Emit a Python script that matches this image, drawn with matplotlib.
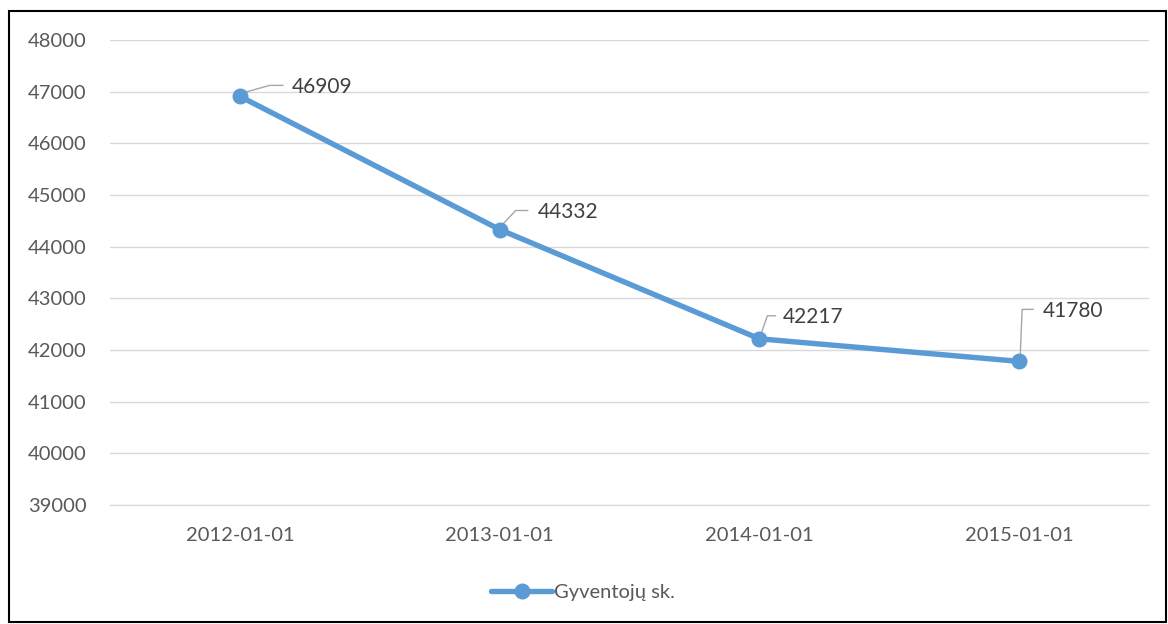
import matplotlib
matplotlib.use("Agg")
import matplotlib.pyplot as plt
from matplotlib.patches import Rectangle

# data
dates = ["2012-01-01", "2013-01-01", "2014-01-01", "2015-01-01"]
population = [46909, 44332, 42217, 41780]
series_name = "Gyventojų sk."

# label leader offsets in pixels (elbow x, elbow y, end x, text x, text y)
leaders = [
    (30, 11, 43, 52, 9),
    (16, 19, 28, 38, 18),
    (8, 23, 16, 23, 22),
    (3, 52, 14, 24, 50),
]

plt.rcParams['font.family'] = ['Lato', 'DejaVu Sans']

blue = "#5b9bd5"
grid_c = "#d9d9d9"
txt_c = "#595959"

fig = plt.figure(figsize=(11.68, 6.24), dpi=100)
ax = fig.add_axes([110 / 1168, 1 - 505 / 624, 1039 / 1168, 465 / 624])

x = list(range(len(dates)))
ax.plot(x, population, color=blue, lw=3.9, marker="o", markersize=10.5,
        solid_capstyle="round", label=series_name, zorder=3)

ax.set_xlim(-0.5, len(dates) - 0.5)
ax.set_ylim(39000, 48000)
ax.set_yticks(range(39000, 48001, 1000))
ax.set_xticks(x)
ax.set_xticklabels(dates)
ax.grid(axis="y", color=grid_c, lw=1)
ax.set_axisbelow(True)
for s in ["top", "right", "left"]:
    ax.spines[s].set_visible(False)
ax.spines["bottom"].set_color(grid_c)
ax.tick_params(axis="both", length=0, labelsize=14.5, colors=txt_c)
ax.tick_params(axis="y", pad=17)
ax.tick_params(axis="x", pad=16)

# data labels with leader lines (pixel offsets from each point)
fig.canvas.draw()
inv = ax.transData.inverted()
for xi, yi, (ex, ey, hx, tx, ty) in zip(x, population, leaders):
    px, py = ax.transData.transform((xi, yi))
    pts = [(px + 1, py + 3), (px + ex, py + ey), (px + hx, py + ey)]
    dpts = inv.transform(pts)
    ax.plot(dpts[:, 0], dpts[:, 1], color="#a6a6a6", lw=1, zorder=2)
    tpx, tpy = inv.transform((px + tx, py + ty))
    ax.text(tpx, tpy, str(yi), fontsize=15, color="#404040", ha="left", va="center")

leg = fig.legend(loc="center", bbox_to_anchor=(583 / 1168, 1 - 592 / 624), frameon=False,
                 fontsize=14.5, handlelength=3.0, handletextpad=0.1)
for t in leg.get_texts():
    t.set_color(txt_c)

fig.patches.append(Rectangle((9 / 1168, 1 - 622 / 624), 1157 / 1168, 611 / 624,
                             transform=fig.transFigure, fill=False, ec="black", lw=1.5))

fig.savefig("out.png", dpi=100)
